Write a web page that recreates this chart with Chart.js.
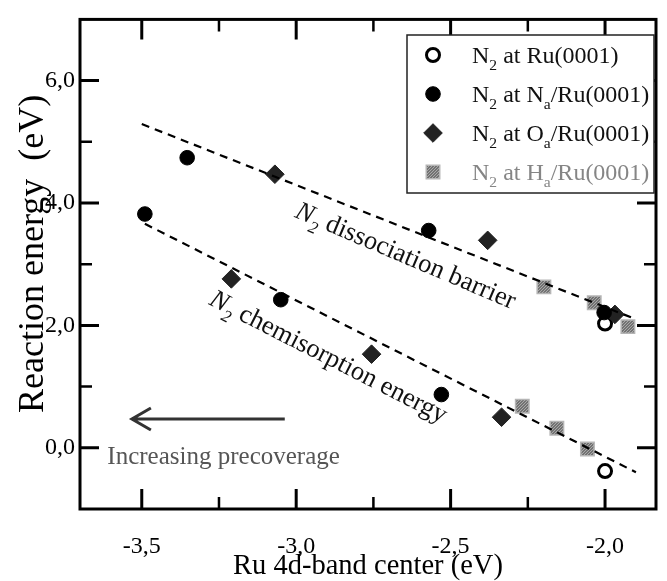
<!DOCTYPE html>
<html>
<head>
<meta charset="utf-8">
<script src="https://cdn.jsdelivr.net/npm/chart.js@4.4.1/dist/chart.umd.min.js"></script>
<style>
  html, body { margin: 0; padding: 0; background: #fff; }
  #wrap { width: 667px; height: 581px; }
</style>
</head>
<body>
<div id="wrap"><canvas id="c" width="667" height="581"></canvas></div>
<script>
// =========================
// Data
// =========================
const ruX = [-2.0, -2.0];
const ruY = [2.03, -0.38];
const naX = [-3.353, -3.49, -3.05, -2.571, -2.53, -2.003];
const naY = [4.74, 3.82, 2.42, 3.55, 0.87, 2.21];
const oX = [-3.069, -3.21, -2.756, -2.38, -2.335, -1.968];
const oY = [4.47, 2.76, 1.53, 3.39, 0.50, 2.18];
const hX = [-2.198, -2.035, -1.926, -2.268, -2.156, -2.057];
const hY = [2.63, 2.37, 1.98, 0.68, 0.32, -0.02];
const barrierX = [-3.5, -1.90];
const barrierY = [5.29, 2.10];
const chemiX = [-3.49, -1.90];
const chemiY = [3.66, -0.40];

const xTicks = [-3.5, -3.0, -2.5, -2.0];
const xMinor = [-3.25, -2.75, -2.25];
const yTicks = [0, 2, 4, 6];
const yMinor = [1, 3, 5];

const yTitle = "Reaction energy  (eV)";
const legendRows = [
  [["N"], ["2", 1], [" at Ru(0001)"]],
  [["N"], ["2", 1], [" at N"], ["a", 1], ["/Ru(0001)"]],
  [["N"], ["2", 1], [" at O"], ["a", 1], ["/Ru(0001)"]],
  [["N"], ["2", 1], [" at H"], ["a", 1], ["/Ru(0001)"]],
];

const SERIF = "'Liberation Serif', 'DejaVu Serif', serif";

const pts = (xs, ys) => xs.map((x, i) => ({ x: x, y: ys[i] }));
const fmt = (v) => Number(v).toFixed(1).replace(".", ",");

// stippled grey for the H_a squares
function stipple() {
  const p = document.createElement("canvas");
  p.width = 3;
  p.height = 3;
  const g = p.getContext("2d");
  g.fillStyle = "#727272";
  g.fillRect(0, 0, 3, 3);
  g.fillStyle = "#a9a9a9";
  g.fillRect(0, 0, 1, 1);
  g.fillRect(2, 1, 1, 1);
  g.fillRect(1, 2, 1, 1);
  return document.getElementById("c").getContext("2d").createPattern(p, "repeat");
}
const squareFill = stipple();

// text with subscripts; parts = [[text, isSub, italic]]
function richWidth(ctx, parts, size) {
  let w = 0;
  parts.forEach(([t, sub, it]) => {
    ctx.font = (it ? "italic " : "") + (sub ? size * 0.65 : size) + "px " + SERIF;
    w += ctx.measureText(t).width;
  });
  return w;
}
function drawRich(ctx, parts, x, y, size) {
  let cx = x;
  ctx.textBaseline = "alphabetic";
  ctx.textAlign = "left";
  parts.forEach(([t, sub, it]) => {
    ctx.font = (it ? "italic " : "") + (sub ? size * 0.65 : size) + "px " + SERIF;
    ctx.fillText(t, cx, sub ? y + size * 0.3 : y);
    cx += ctx.measureText(t).width;
  });
}

// =========================
// Decorations: frame, inward ticks, legend, labels
// =========================
const decor = {
  id: "decor",
  afterDraw(chart) {
    const ctx = chart.ctx;
    const a = chart.chartArea;
    const sx = chart.scales.x;
    const sy = chart.scales.y;
    ctx.save();
    ctx.strokeStyle = "#000";

    // ticks on all four sides, pointing inward
    const tick = (vals, len, lw) => {
      ctx.lineWidth = lw;
      vals.forEach((v) => {
        const px = sx.getPixelForValue(v);
        ctx.beginPath();
        ctx.moveTo(px, a.bottom); ctx.lineTo(px, a.bottom - len);
        ctx.moveTo(px, a.top); ctx.lineTo(px, a.top + len);
        ctx.stroke();
      });
    };
    const ytick = (vals, len, lw) => {
      ctx.lineWidth = lw;
      vals.forEach((v) => {
        const py = sy.getPixelForValue(v);
        ctx.beginPath();
        ctx.moveTo(a.left, py); ctx.lineTo(a.left + len, py);
        ctx.moveTo(a.right, py); ctx.lineTo(a.right - len, py);
        ctx.stroke();
      });
    };
    tick(xTicks, 20, 3);
    tick(xMinor, 12, 2.5);
    ytick(yTicks, 19, 3);
    ytick(yMinor, 12, 2.5);

    // frame
    ctx.lineWidth = 3;
    ctx.strokeRect(a.left, a.top, a.right - a.left, a.bottom - a.top);

    // y axis title (sits a little above the axis middle in the original)
    ctx.save();
    ctx.translate(43, sy.getPixelForValue(3.17));
    ctx.rotate(-Math.PI / 2);
    ctx.fillStyle = "#000";
    ctx.font = "36px " + SERIF;
    ctx.textAlign = "center";
    ctx.textBaseline = "alphabetic";
    ctx.fillText(yTitle, 0, 0);
    ctx.restore();

    // legend box
    const lx = 407, ly = 35, lw = 247, lh = 158;
    ctx.fillStyle = "#fff";
    ctx.fillRect(lx, ly, lw, lh);
    ctx.lineWidth = 1.5;
    ctx.strokeStyle = "#222";
    ctx.strokeRect(lx, ly, lw, lh);
    const metas = [0, 1, 2, 3].map((i) => chart.getDatasetMeta(i).data[0]);
    legendRows.forEach((row, i) => {
      const cy = 55 + i * 39;
      const el = metas[i];
      ctx.fillStyle = el.options.backgroundColor;
      ctx.strokeStyle = el.options.borderColor;
      ctx.lineWidth = el.options.borderWidth;
      Chart.helpers.drawPoint(ctx, {
        pointStyle: el.options.pointStyle,
        radius: el.options.radius,
        borderWidth: el.options.borderWidth,
        rotation: 0,
      }, 433, cy);
      ctx.fillStyle = i === 3 ? "#858585" : "#111";
      drawRich(ctx, row, 472, cy + 8, 24);
    });

    // slanted line labels
    const slanted = (parts, vx, vy, deg, size) => {
      const px = sx.getPixelForValue(vx);
      const py = sy.getPixelForValue(vy);
      ctx.save();
      ctx.translate(px, py);
      ctx.rotate((deg * Math.PI) / 180);
      ctx.fillStyle = "#111";
      const w = richWidth(ctx, parts, size);
      drawRich(ctx, parts, -w / 2, size * 0.3, size);
      ctx.restore();
    };
    slanted([["N", 0, 1], ["2", 1, 1], [" dissociation barrier"]], -2.645, 3.14, 23, 26.5);
    slanted([["N", 0, 1], ["2", 1, 1], [" chemisorption energy"]], -2.895, 1.49, 27, 26.5);

    // precoverage arrow
    const ax0 = sx.getPixelForValue(-3.037);
    const ax1 = sx.getPixelForValue(-3.532);
    const ay = sy.getPixelForValue(0.47);
    ctx.strokeStyle = "#333";
    ctx.lineWidth = 3;
    ctx.beginPath();
    ctx.moveTo(ax0, ay); ctx.lineTo(ax1, ay);
    ctx.moveTo(ax1 + 19, ay - 11); ctx.lineTo(ax1, ay); ctx.lineTo(ax1 + 19, ay + 11);
    ctx.stroke();
    ctx.fillStyle = "#555";
    ctx.font = "25px " + SERIF;
    ctx.textAlign = "center";
    ctx.textBaseline = "middle";
    ctx.fillText("Increasing precoverage", sx.getPixelForValue(-3.235), sy.getPixelForValue(-0.15));
    ctx.restore();
  },
};

// =========================
// Chart
// =========================
const chart = new Chart(document.getElementById("c"), {
  type: "scatter",
  data: {
    datasets: [
      {
        label: "N2 at Ru(0001)",
        data: pts(ruX, ruY),
        pointStyle: "circle",
        pointRadius: 6.5,
        borderWidth: 3,
        borderColor: "#000",
        backgroundColor: "#fff",
        order: 3,
      },
      {
        label: "N2 at Na/Ru(0001)",
        data: pts(naX, naY),
        pointStyle: "circle",
        pointRadius: 7.3,
        borderWidth: 1,
        borderColor: "#000",
        backgroundColor: "#000",
        order: 0,
      },
      {
        label: "N2 at Oa/Ru(0001)",
        data: pts(oX, oY),
        pointStyle: "rectRot",
        pointRadius: 9.3,
        borderWidth: 1,
        borderColor: "#222",
        backgroundColor: "#222",
        order: 1,
      },
      {
        label: "N2 at Ha/Ru(0001)",
        data: pts(hX, hY),
        pointStyle: "rect",
        pointRadius: 9.5,
        borderWidth: 1.5,
        borderColor: "#b5b5b5",
        backgroundColor: squareFill,
        order: 2,
      },
      {
        label: "dissociation barrier",
        data: pts(barrierX, barrierY),
        showLine: true,
        pointRadius: 0,
        borderColor: "#000",
        borderWidth: 2.2,
        borderDash: [8, 6],
        order: -1,
      },
      {
        label: "chemisorption energy",
        data: pts(chemiX, chemiY),
        showLine: true,
        pointRadius: 0,
        borderColor: "#000",
        borderWidth: 2.2,
        borderDash: [8, 6],
        order: -1,
      },
    ],
  },
  options: {
    responsive: false,
    animation: false,
    devicePixelRatio: 1,
    layout: { padding: { top: 15, right: 3, left: 0, bottom: 0 } },
    plugins: { legend: { display: false }, tooltip: { enabled: false } },
    scales: {
      x: {
        type: "linear",
        min: -3.7,
        max: -1.835,
        afterBuildTicks: (s) => { s.ticks = xTicks.map((v) => ({ value: v })); },
        afterFit: (s) => { s.height = 72; },
        grid: { display: false, drawTicks: false },
        border: { display: false },
        ticks: {
          color: "#000",
          padding: 23,
          maxRotation: 0,
          font: { family: SERIF, size: 24 },
          callback: (v) => fmt(v),
        },
        title: {
          display: true,
          text: "Ru 4d-band center (eV)",
          color: "#000",
          padding: 0,
          font: { family: SERIF, size: 28.5, lineHeight: 1.0 },
        },
      },
      y: {
        type: "linear",
        min: -1,
        max: 7,
        afterBuildTicks: (s) => { s.ticks = yTicks.map((v) => ({ value: v })); },
        afterFit: (s) => { s.width = 80; },
        grid: { display: false, drawTicks: false },
        border: { display: false },
        ticks: {
          color: "#000",
          padding: 5,
          font: { family: SERIF, size: 24 },
          callback: (v) => fmt(v),
        },
        title: { display: false },
      },
    },
  },
  plugins: [decor],
});
</script>
</body>
</html>
